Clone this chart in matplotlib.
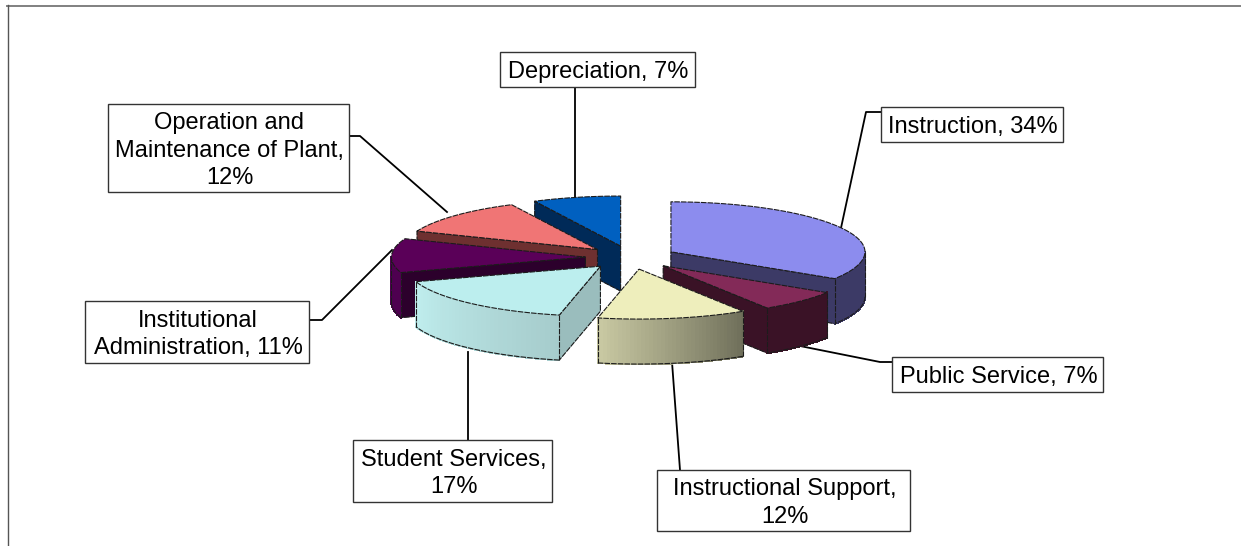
import numpy as np
import matplotlib
matplotlib.use("Agg")
import matplotlib.pyplot as plt
from matplotlib.collections import PolyCollection
from matplotlib.colors import to_rgb
from matplotlib.patches import Polygon, Rectangle

# Chart values, clockwise from twelve o'clock (unrounded shares)
categories = ['Instruction', 'Public Service', 'Instructional Support', 'Student Services',
              'Institutional Administration', 'Operation and Maintenance of Plant', 'Depreciation']
shares = [34, 7, 12.4, 16.6, 11, 11.7, 7.3]
labels = ['Instruction, 34%', 'Public Service, 7%', 'Instructional Support,\n12%',
          'Student Services,\n17%', 'Institutional\nAdministration, 11%',
          'Operation and\nMaintenance of Plant,\n12%', 'Depreciation, 7%']

top_colors = ['#8C8CEE', '#832A58', '#EEEEBC', '#BCEEEE', '#5A0058', '#F07575', '#0060C0']
cut_colors = ['#3C3A66', '#3A1226', '#6F6F5A', '#9ABDBD', '#2C002C', '#6E3030', '#002A58']
wall_start = ['#3C3A66', '#3A1226', '#6F6F5A', '#A6CCCC', '#4E0050', '#6E3030', '#002A58']
wall_end = ['#3C3A66', '#3A1226', '#C8C8A2', '#BFEDED', '#4E0050', '#6E3030', '#002A58']

# Label boxes in pixels (left, top, right, bottom) and their leader lines
boxes = [(881, 107, 1063, 142), (892, 357, 1103, 392), (657, 470, 910, 531),
         (353, 440, 552, 502), (85, 301, 309, 363), (108, 104, 349, 192), (500, 52, 695, 87)]
leaders = [[(881, 112), (866, 112), (841, 228)],
           [(892, 362), (880, 362), (800, 346)],
           [(680, 470), (672, 362)],
           [(468, 440), (468, 352)],
           [(309, 320), (322, 320), (392, 250)],
           [(349, 136), (360, 136), (447, 212)],
           [(575, 87), (575, 197)]]

# Pie geometry in pixels
CX, CY = 631, 257.5
RX, RY = 194, 50
DEPTH = 45
EXPLODE = 0.235
EDGE = '#1c1c1c'


def rim(center, angles):
    """Points on the top ellipse of a slice, angles in degrees clockwise from north."""
    a = np.radians(angles)
    return np.column_stack([center[0] + RX * np.sin(a), center[1] - RY * np.cos(a)])


def outline(ax, pts, z):
    ax.plot(pts[:, 0], pts[:, 1], color=EDGE, lw=0.8, ls=(0, (5, 1)), zorder=z)


def draw_cut(ax, apex, angle, color, z):
    edge = rim(apex, [angle])[0]
    pts = np.array([apex, edge, edge + (0, DEPTH), np.array(apex) + (0, DEPTH)])
    ax.add_patch(Polygon(pts, closed=True, facecolor=color, edgecolor=color, lw=0.5, zorder=z))
    outline(ax, np.vstack([pts, pts[:1]]), z + 0.01)


def draw_wall(ax, apex, start, end, i, z):
    lo, hi = max(start, 90), min(end, 270)
    if lo >= hi:
        return
    steps = np.linspace(lo, hi, 40)
    arc = rim(apex, steps)
    quads = [[arc[k], arc[k + 1], arc[k + 1] + (0, DEPTH), arc[k] + (0, DEPTH)]
             for k in range(len(arc) - 1)]
    c0, c1 = np.array(to_rgb(wall_start[i])), np.array(to_rgb(wall_end[i]))
    t = np.linspace(0, 1, len(quads))[:, None]
    ax.add_collection(PolyCollection(quads, facecolors=c0 + (c1 - c0) * t, edgecolors='face',
                                     linewidths=1.0, antialiaseds=False, zorder=z))
    outline(ax, arc + (0, DEPTH), z + 0.01)
    for p in (arc[0], arc[-1]):
        outline(ax, np.array([p, p + (0, DEPTH)]), z + 0.01)


def draw_slice(ax, i, start, end, z):
    mid = np.radians((start + end) / 2)
    apex = (CX + EXPLODE * RX * np.sin(mid), CY - EXPLODE * RY * np.cos(mid))

    # Only the cut faces turned towards the viewer get drawn
    if np.sin(np.radians(start)) < -1e-6:
        draw_cut(ax, apex, start, cut_colors[i], z)
    if np.sin(np.radians(end)) > 1e-6:
        draw_cut(ax, apex, end, cut_colors[i], z)
    draw_wall(ax, apex, start, end, i, z + 0.1)

    arc = rim(apex, np.linspace(start, end, 80))
    top = np.vstack([[apex], arc, [apex]])
    ax.add_patch(Polygon(top, closed=True, facecolor=top_colors[i], edgecolor='none', zorder=z + 0.2))
    outline(ax, top, z + 0.21)


def main():
    fig = plt.figure(figsize=(12.5, 5.46), dpi=100)
    ax = fig.add_axes([0, 0, 1, 1])
    ax.set_xlim(0, 1250)
    ax.set_ylim(546, 0)
    ax.axis('off')

    # Frame, only top and left are in view
    ax.plot([7, 1240], [5.5, 5.5], color='#808080', lw=1.4, zorder=1)
    ax.plot([7.5, 7.5], [5, 546], color='#555555', lw=1.0, zorder=1)

    # Leader lines sit under the pie
    for line in leaders:
        xs, ys = zip(*line)
        ax.plot(xs, ys, color='black', lw=1.3, zorder=2)

    # Slices back to front
    edges = np.concatenate([[0], np.cumsum(shares)]) / sum(shares) * 360
    mids = (edges[:-1] + edges[1:]) / 2
    order = np.argsort(-np.cos(np.radians(mids)))
    for rank, i in enumerate(order):
        draw_slice(ax, i, edges[i], edges[i + 1], 3 + rank)

    # Label boxes
    for text, (left, top, right, bottom) in zip(labels, boxes):
        ax.add_patch(Rectangle((left, top), right - left, bottom - top, facecolor='white',
                               edgecolor='#333333', lw=1.0, zorder=20))
        ax.text((left + right) / 2 + 1, (top + bottom) / 2 + 2.5, text, ha='center', va='center',
                family='Liberation Sans', fontsize=17, color='black', linespacing=1.33, zorder=21)

    fig.savefig('out.png', dpi=100, facecolor='white')


if __name__ == "__main__":
    main()
